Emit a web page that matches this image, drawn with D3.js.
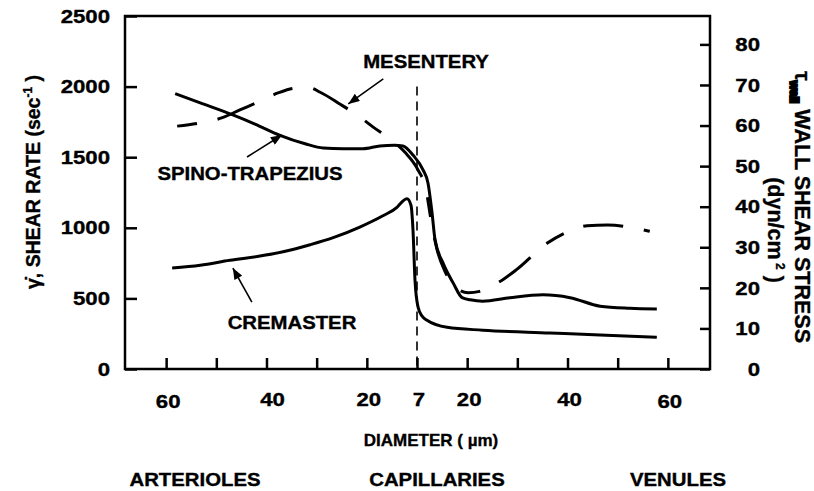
<!DOCTYPE html>
<html>
<head>
<meta charset="utf-8">
<script src="https://cdn.jsdelivr.net/npm/d3@7"></script>
<style>
  html, body { margin: 0; padding: 0; background: #fff; }
  svg { display: block; }
  text { font-family: "Liberation Sans", Arial, sans-serif; font-weight: bold; fill: #000; stroke: #000; stroke-width: 0.35px; }
</style>
</head>
<body>
<div id="container"></div>
<script>
// x is the position along the vessel tree: arterioles (<0), capillaries (0), venules (>0)
const diameterTicks = [-5, -4, -3, -2, -1, 0, 1, 2, 3, 4, 5];
const diameterLabelPos = [-5, -3, -1, 0, 1, 3, 5];
const diameterLabels = ["60", "40", "20", "7", "20", "40", "60"];
const regions = ["ARTERIOLES", "CAPILLARIES", "VENULES"];

const shearRateTicks = [0, 500, 1000, 1500, 2000, 2500];
const stressTicks = [0, 10, 20, 30, 40, 50, 60, 70, 80];

const spinoPos = [-4.82, -4.32, -3.67, -3.23, -2.73, -2.23, -1.87, -1.47, -1.08, -0.74, -0.45, -0.28, -0.08, 0.12, 0.22, 0.30, 0.36, 0.52, 0.72, 0.90, 1.06, 1.31, 1.85, 2.51, 3.05, 3.65, 4.24, 4.78];
const spinoRate = [1950, 1885, 1800, 1735, 1655, 1595, 1565, 1560, 1560, 1580, 1585, 1580, 1515, 1410, 1315, 1105, 915, 750, 610, 505, 490, 480, 505, 525, 505, 445, 430, 425];

const cremasterPos = [-4.88, -4.32, -3.73, -3.13, -2.67, -2.13, -1.67, -1.14, -0.68, -0.40, -0.28, -0.20, -0.12, -0.08, -0.04, 0.02, 0.10, 0.20, 0.60, 1.31, 2.65, 3.65, 4.78];
const cremasterRate = [715, 735, 770, 800, 830, 880, 930, 1005, 1085, 1145, 1190, 1205, 1160, 985, 630, 440, 375, 345, 295, 275, 255, 240, 225];

const mesenteryPos = [-4.78, -4.36, -3.88, -3.53, -3.17, -2.77, -2.37, -2.13, -1.93, -1.53, -1.20, -0.88, -0.54, -0.24, 0.02, 0.18, 0.28, 0.40, 0.56, 0.76, 1.02, 1.25, 1.61, 1.97, 2.59, 2.99, 3.39, 3.80, 4.24, 4.64];
const mesenteryRate = [1720, 1740, 1780, 1835, 1890, 1955, 1990, 1990, 1960, 1875, 1800, 1715, 1630, 1535, 1410, 1270, 1055, 845, 690, 580, 540, 550, 610, 700, 890, 970, 1015, 1020, 1005, 975];

const width = 814;
const height = 491;
const plot = { left: 125, right: 710, top: 16, bottom: 369 };

const svg = d3.select("#container").append("svg")
  .attr("width", width).attr("height", height);

const x = d3.scaleLinear().domain([-5.82, 5.84]).range([plot.left, plot.right]);
const y = d3.scaleLinear().domain([0, 2500]).range([plot.bottom, plot.top]);
const yRight = d3.scaleLinear().domain([0, 87]).range([plot.bottom, plot.top]);

// the original figure is stretched sideways, so horizontal text gets a wider scale
const label = (g, px, py, s, anchor = "middle", size = 18, sx = 1.13) =>
  g.append("text")
    .attr("transform", `translate(${px},${py}) scale(${sx},1)`)
    .attr("text-anchor", anchor)
    .attr("dy", "0.36em")
    .attr("font-size", size)
    .text(s);

// axes (ticks point inward)
svg.append("g")
  .attr("transform", `translate(${plot.left},0)`)
  .call(d3.axisLeft(y).tickValues(shearRateTicks).tickSizeInner(-12).tickSizeOuter(0).tickFormat(""))
  .call(g => g.select(".domain").remove())
  .selectAll("line").attr("stroke", "#000").attr("stroke-width", 2.5);

svg.append("g")
  .attr("transform", `translate(${plot.right},0)`)
  .call(d3.axisLeft(yRight).tickValues(stressTicks).tickSizeInner(10).tickSizeOuter(0).tickFormat(""))
  .call(g => g.select(".domain").remove())
  .selectAll("line").attr("stroke", "#000").attr("stroke-width", 2.5);

svg.append("g")
  .attr("transform", `translate(0,${plot.bottom})`)
  .call(d3.axisBottom(x).tickValues(diameterTicks).tickSizeInner(-11).tickSizeOuter(0).tickFormat(""))
  .call(g => g.select(".domain").remove())
  .selectAll("line").attr("stroke", "#000").attr("stroke-width", 2.5);

svg.append("rect")
  .attr("x", plot.left).attr("y", plot.top)
  .attr("width", plot.right - plot.left).attr("height", plot.bottom - plot.top)
  .attr("fill", "none").attr("stroke", "#000").attr("stroke-width", 2.5);

const tickText = svg.append("g");
shearRateTicks.forEach(v => label(tickText, 110, y(v), String(v), "end", 18.5, 1.2));
stressTicks.forEach(v => label(tickText, 760, yRight(v), String(v), "end", 18.5, 1.2));
diameterLabelPos.forEach((p, i) => {
  const outer = Math.abs(p) === 5 ? 2 : 0;
  label(tickText, x(p) + (p === -3 ? 6 : 2), 399 + outer, diameterLabels[i], "middle", 18.5, 1.2);
});

// capillary divider
svg.append("line")
  .attr("x1", x(0)).attr("x2", x(0))
  .attr("y1", y(2000)).attr("y2", plot.bottom)
  .attr("stroke", "#000").attr("stroke-width", 1.6)
  .attr("stroke-dasharray", "9,6");

// curves
const line = (px, py) => d3.line()
  .x((d, i) => x(px[i]))
  .y((d, i) => y(py[i]))
  .curve(d3.curveMonotoneX)(px);

svg.append("path").attr("d", line(cremasterPos, cremasterRate))
  .attr("fill", "none").attr("stroke", "#000").attr("stroke-width", 3);
svg.append("path").attr("d", line(spinoPos, spinoRate))
  .attr("fill", "none").attr("stroke", "#000").attr("stroke-width", 3);
svg.append("path").attr("d", line(mesenteryPos, mesenteryRate))
  .attr("fill", "none").attr("stroke", "#000").attr("stroke-width", 3)
  .attr("stroke-dasharray", "20,21,40,21");

// annotations
svg.append("defs").append("marker")
  .attr("id", "head")
  .attr("viewBox", "0 0 10 8")
  .attr("refX", 10).attr("refY", 4)
  .attr("markerUnits", "userSpaceOnUse")
  .attr("markerWidth", 12).attr("markerHeight", 9)
  .attr("orient", "auto")
  .append("path").attr("d", "M0,0L10,4L0,8Z").attr("fill", "#000");

const arrow = (tx, ty, dx, dy) => svg.append("line")
  .attr("x1", tx + dx).attr("y1", ty + dy)
  .attr("x2", tx).attr("y2", ty)
  .attr("stroke", "#000").attr("stroke-width", 1.6)
  .attr("marker-end", "url(#head)");

arrow(x(-1.37), y(1877), 35, -25);
arrow(x(-2.69), y(1657), -35, 22);
arrow(x(-3.67), y(715), 19, 34);

const notes = svg.append("g");
label(notes, 426, 62, "MESENTERY");
label(notes, 250, 174, "SPINO-TRAPEZIUS");
label(notes, 292, 323, "CREMASTER");

// axis titles
label(notes, 431, 440, "DIAMETER ( µm)", "middle", 17, 1.0);
[195, 437, 678].forEach((px, i) => label(notes, px, 480, regions[i]));

const leftTitle = notes.append("text")
  .attr("transform", "translate(33,182) rotate(-90)")
  .attr("text-anchor", "middle").attr("dy", "0.36em").attr("font-size", 19.5);
leftTitle.append("tspan").text("γ̇, SHEAR RATE (sec");
leftTitle.append("tspan").attr("dy", -8).attr("font-size", 12).text("-1");
leftTitle.append("tspan").attr("dy", 8).text("   )");

const rightTitle = notes.append("text")
  .attr("transform", "translate(803,207) rotate(90)")
  .attr("text-anchor", "middle").attr("dy", "0.36em").attr("font-size", 21.5);
rightTitle.append("tspan").text("τ");
rightTitle.append("tspan").attr("dy", 5).attr("font-size", 12).attr("stroke-width", 2).text("wall");
rightTitle.append("tspan").attr("dy", -5).text("  WALL SHEAR STRESS");

const rightSub = notes.append("text")
  .attr("transform", "translate(776,230) rotate(90)")
  .attr("text-anchor", "middle").attr("dy", "0.36em").attr("font-size", 21.5);
rightSub.append("tspan").text("(dyn/cm");
rightSub.append("tspan").attr("dy", -8).attr("font-size", 12).text(" 2");
rightSub.append("tspan").attr("dy", 8).text(" )");
</script>
</body>
</html>
